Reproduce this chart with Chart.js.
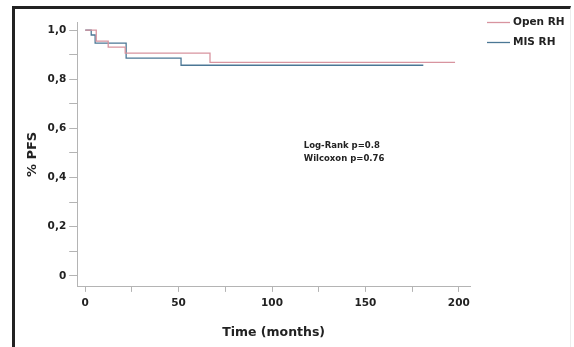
<!DOCTYPE html>
<html>
<head>
<meta charset="utf-8">
<script src="https://cdn.jsdelivr.net/npm/chart.js@4.4.1/dist/chart.umd.min.js"></script>
<style>
  body { margin: 0; background: #fff; }
  #wrap { position: relative; width: 574px; height: 347px; }
  #frame {
    position: absolute; left: 12px; top: 6px; width: 555px; height: 345px;
    border-left: 3px solid #222; border-top: 3px solid #222; border-right: 1px solid #ececec;
    pointer-events: none;
  }
  canvas { position: absolute; left: 0; top: 0; }
</style>
</head>
<body>
<div id="wrap">
  <canvas id="km" width="574" height="347"></canvas>
  <div id="frame"></div>
</div>
<script>
// Kaplan-Meier curves
var openTimes = [0, 5.9, 12.3, 21.4, 66.8, 198];
var openSurv  = [1, 0.955, 0.931, 0.906, 0.869, 0.869];
var misTimes  = [0, 3.2, 5.3, 21.9, 51.3, 181];
var misSurv   = [1, 0.98, 0.947, 0.886, 0.857, 0.857];

var xTicks = [0, 25, 50, 75, 100, 125, 150, 175, 200];
var yTicks = [0, 0.1, 0.2, 0.3, 0.4, 0.5, 0.6, 0.7, 0.8, 0.9, 1.0];
var statsText = ['Log-Rank p=0.8', 'Wilcoxon p=0.76'];

var pink = '#d8949f';
var blue = '#4b7795';
var axisGrey = '#b4b4b4';
var txt = '#222';
var fam = '"DejaVu Sans", Verdana, sans-serif';

function toPoints(ts, ss) {
    return ts.map(function (t, i) { return { x: t, y: ss[i] }; });
}

// legend + p-values drawn on top
var extras = {
    id: 'extras',
    afterDraw: function (chart) {
        var ctx = chart.ctx;
        var xs = chart.scales.x, ys = chart.scales.y;
        ctx.save();
        ctx.fillStyle = txt;
        ctx.font = 'bold 8.5px ' + fam;
        ctx.textBaseline = 'middle';
        ctx.textAlign = 'left';
        ctx.fillText(statsText[0], xs.getPixelForValue(117), ys.getPixelForValue(0.53));
        ctx.fillText(statsText[1], xs.getPixelForValue(117), ys.getPixelForValue(0.477));

        // legend
        ctx.font = 'bold 10.5px ' + fam;
        chart.data.datasets.forEach(function (ds, i) {
            var y = 22.5 + i * 20;
            ctx.strokeStyle = ds.borderColor;
            ctx.lineWidth = 1.3;
            ctx.beginPath();
            ctx.moveTo(487, y);
            ctx.lineTo(510, y);
            ctx.stroke();
            ctx.fillText(ds.label, 513, y);
        });
        ctx.restore();
    }
};

var ctx = document.getElementById('km').getContext('2d');
var chart = new Chart(ctx, {
    type: 'line',
    data: {
        datasets: [{
            label: 'Open RH',
            data: toPoints(openTimes, openSurv),
            borderColor: pink,
            borderWidth: 1.3,
            stepped: true,
            pointRadius: 0,
            fill: false
        }, {
            label: 'MIS RH',
            data: toPoints(misTimes, misSurv),
            borderColor: blue,
            borderWidth: 1.3,
            stepped: true,
            pointRadius: 0,
            fill: false
        }]
    },
    options: {
        responsive: false,
        animation: false,
        layout: { padding: { top: 22, right: 104, left: 25, bottom: 6.5 } },
        plugins: { legend: { display: false }, tooltip: { enabled: false } },
        scales: {
            x: {
                type: 'linear',
                min: -4.3,
                max: 206,
                afterBuildTicks: function (s) { s.ticks = xTicks.map(function (v) { return { value: v }; }); },
                ticks: {
                    autoSkip: false,
                    maxRotation: 0,
                    padding: 5,
                    color: txt,
                    font: { family: fam, size: 10.5, weight: 'bold' },
                    callback: function (v) { return v % 50 === 0 ? String(v) : ''; }
                },
                grid: { drawOnChartArea: false, tickLength: 5, color: axisGrey },
                border: { color: axisGrey, width: 1 },
                title: {
                    display: true,
                    text: 'Time (months)',
                    color: txt,
                    padding: { top: 11, bottom: 0 },
                    font: { family: fam, size: 12.5, weight: 'bold' }
                }
            },
            y: {
                min: -0.045,
                max: 1.033,
                afterBuildTicks: function (s) { s.ticks = yTicks.map(function (v) { return { value: v }; }); },
                ticks: {
                    autoSkip: false,
                    padding: 3,
                    color: txt,
                    font: { family: fam, size: 10.5, weight: 'bold' },
                    callback: function (v) {
                        var r = Math.round(v * 10);
                        if (r % 2 !== 0) return '';
                        return r === 0 ? '0' : (r / 10).toFixed(1).replace('.', ',');
                    }
                },
                grid: { drawOnChartArea: false, tickLength: 8, color: axisGrey },
                border: { color: axisGrey, width: 1 },
                title: {
                    display: true,
                    text: '% PFS',
                    color: txt,
                    padding: { top: 0, bottom: 4 },
                    font: { family: fam, size: 13, weight: 'bold' }
                }
            }
        }
    },
    plugins: [extras]
});
</script>
</body>
</html>
